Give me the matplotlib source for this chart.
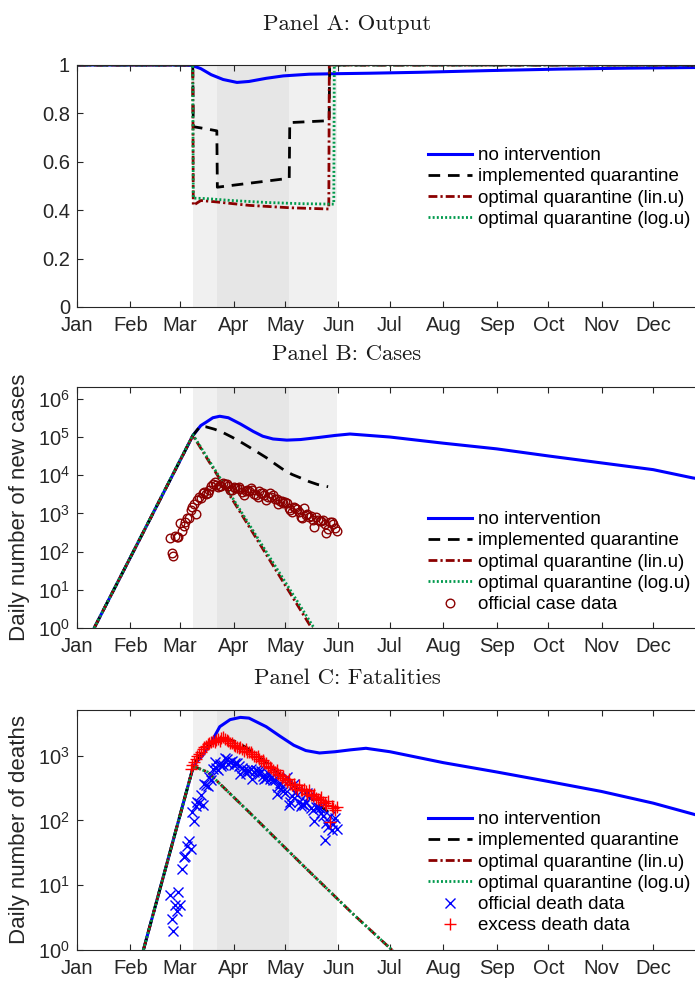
import numpy as np
import matplotlib
matplotlib.use("Agg")
import matplotlib.pyplot as plt

plt.rcParams['font.family'] = ['Liberation Sans', 'DejaVu Sans']
plt.rcParams['mathtext.default'] = 'regular'

# === DATA (day 0 = Jan 1, 2020) ===
month_days = [0, 31, 60, 91, 121, 152, 182, 213, 244, 274, 305, 335]
month_names = ['Jan', 'Feb', 'Mar', 'Apr', 'May', 'Jun',
               'Jul', 'Aug', 'Sep', 'Oct', 'Nov', 'Dec']

lockdown_outer = [67.5, 151]   # light grey band
lockdown_inner = [81.5, 123.5] # darker grey band

# Panel A: output
outA_none_days = [0, 60, 67, 72, 78, 85, 93, 100, 110, 120, 135, 150, 170, 200, 240, 280, 320, 366]
outA_none = [1, 1, 0.998, 0.985, 0.96, 0.94, 0.928, 0.932, 0.945, 0.955, 0.962, 0.964,
             0.966, 0.97, 0.977, 0.983, 0.987, 0.99]
outA_impl_days = [0, 67.3, 67.6, 72, 81.3, 81.6, 123.4, 123.7, 146.6, 146.9, 366]
outA_impl = [1, 1, 0.745, 0.74, 0.728, 0.495, 0.532, 0.762, 0.77, 1, 1]
outA_lin_days = [0, 67.3, 67.6, 72, 80, 100, 124, 146.4, 146.7, 366]
outA_lin = [1, 1, 0.42, 0.44, 0.435, 0.42, 0.41, 0.405, 1, 1]
outA_log_days = [0, 67.3, 67.6, 75, 90, 110, 130, 149.3, 149.6, 366]
outA_log = [1, 1, 0.45, 0.448, 0.44, 0.432, 0.427, 0.425, 1, 1]

# Panel B: daily new cases
casesB_none_days = [10, 67.4, 72, 75.4, 79, 83, 88, 95, 102.5, 108, 114, 122, 130, 141,
                    150, 158.7, 182, 213, 244, 274, 305, 335, 358, 366]
casesB_none = [1, 1.1e5, 2.0e5, 2.5e5, 3.2e5, 3.5e5, 3.2e5, 2.2e5, 1.4e5, 1.05e5, 8.9e4,
               8.3e4, 8.6e4, 9.8e4, 1.1e5, 1.2e5, 1.0e5, 6.9e4, 4.9e4, 3.2e4, 2.1e4,
               1.4e4, 8.5e3, 7.5e3]
casesB_impl_days = [10, 67.4, 71.5, 75, 80, 85, 90, 95, 100, 105, 110, 115, 120, 125,
                    130, 135, 140, 146]
casesB_impl = [1, 1.1e5, 1.9e5, 1.85e5, 1.6e5, 1.3e5, 1.0e5, 7.5e4, 5.5e4, 4.0e4, 2.9e4,
               2.0e4, 1.4e4, 1.05e4, 8.5e3, 6.8e3, 5.7e3, 5.0e3]
casesB_lin_days = [10, 67.4, 136.4, 145]
casesB_lin = [1, 1.1e5, 1, 0.23]
casesB_log_days = [10, 67.4, 137.8, 145]
casesB_log = [1, 1.15e5, 1, 0.3]

case_first_day = 54
case_data = [221, 93, 78, 250, 238, 240, 561, 347, 466, 587, 769, 778, 1247, 1492,
             1797, 977, 2313, 2651, 2547, 3497, 3590, 3233, 3526, 4207, 5322, 5986,
             6557, 5560, 4789, 5249, 5210, 6153, 5959, 5974, 5217, 4050, 4053, 4782,
             4668, 4585, 4805, 4316, 3599, 3039, 3836, 4204, 3951, 4694, 4092, 3153,
             2972, 2667, 3786, 3493, 3491, 3047, 2256, 2729, 3370, 2646, 3021, 2357,
             2324, 1739, 2091, 2086, 1872, 1965, 1900, 1389, 1221, 1075, 1444, 1401,
             1327, 1083, 802, 744, 1402, 888, 992, 789, 875, 675, 451, 813, 665, 642,
             652, 669, 531, 300, 397, 584, 593, 516, 416, 355]

# Panel C: daily deaths
deathsC_none_days = [38.6, 67.6, 70, 73, 78, 83, 89, 95, 100, 110, 118, 126, 133, 141,
                     150, 159, 168, 182, 213, 244, 274, 305, 335, 366]
deathsC_none = [1, 680, 830, 1000, 1600, 2800, 3600, 3900, 3800, 2800, 2000, 1450, 1200,
                1100, 1150, 1230, 1300, 1150, 780, 560, 400, 280, 185, 110]
deathsC_impl_days = [38.6, 67.6, 70, 73, 77, 82, 87, 92, 97, 102, 107, 112, 117, 122,
                     127, 132, 137, 142, 146]
deathsC_impl = [1, 680, 900, 1150, 1450, 1700, 1800, 1650, 1400, 1150, 900, 700, 540,
                420, 330, 265, 210, 165, 135]
deathsC_opt_days = [38.6, 67.6, 70, 73, 76, 100, 130, 160, 185]
deathsC_opt = [1, 680, 650, 600, 560, 135, 22, 3.7, 0.9]

death_first_day = 54
death_data = [7, 3, 2, 5, 4, 8, 5, 18, 27, 28, 41, 49, 36, 133, 97, 168, 196, 189, 250,
              175, 368, 349, 345, 475, 427, 627, 793, 651, 601, 743, 683, 712, 919, 889,
              756, 812, 837, 727, 760, 766, 681, 525, 636, 604, 542, 610, 570, 619, 431,
              566, 602, 578, 525, 575, 482, 433, 454, 534, 437, 464, 420, 415, 260, 333,
              382, 323, 285, 269, 474, 174, 195, 236, 369, 274, 243, 194, 165, 179, 172,
              195, 262, 242, 153, 145, 99, 162, 161, 156, 130, 119, 50, 92, 78, 117, 70,
              87, 111, 75]

excess_first_day = 66
excess_data = [620, 720, 800, 900, 1000, 1050, 1150, 1250, 1350, 1400, 1500, 1550, 1600,
               1700, 1650, 1750, 1800, 1700, 1850, 1950, 1800, 1750, 1700, 1550, 1550,
               1450, 1400, 1350, 1300, 1350, 1250, 1200, 1250, 1150, 1150, 1150, 1050,
               1000, 950, 1000, 880, 830, 850, 780, 760, 700, 660, 640, 600, 560, 600,
               530, 500, 450, 480, 420, 390, 430, 370, 350, 370, 330, 310, 350, 300, 290,
               310, 280, 260, 290, 250, 240, 260, 225, 215, 205, 230, 195, 185, 175, 200,
               95, 165, 155, 145, 160]

# === STYLE ===
c_none = '#0000FF'
c_impl = 'black'
c_lin = '#8B0000'
c_log = '#00994C'
ax_col = '#262626'
ls_impl = (0, (4.2, 2.8))
ls_lin = (0, (3.2, 1.1, 0.8, 1.1))
ls_log = (0, (0.7, 0.8))

W, H = 695, 981
fig = plt.figure(figsize=(W / 100, H / 100), dpi=100)

x0, x1 = 77, 706.5
def axes_at(top, bottom):
    return fig.add_axes([x0 / W, 1 - bottom / H, (x1 - x0) / W, (bottom - top) / H])

axA = axes_at(65, 307)
axB = axes_at(387, 628)
axC = axes_at(710, 950)


def style(ax):
    ax.axvspan(lockdown_outer[0], lockdown_outer[1], color='#F0F0F0', lw=0, zorder=0)
    ax.axvspan(lockdown_inner[0], lockdown_inner[1], color='#E6E6E6', lw=0, zorder=0)
    ax.set_xlim(0, 366)
    ax.set_xticks(month_days)
    ax.set_xticklabels(month_names)
    ax.tick_params(direction='in', length=4, width=0.8, color=ax_col, labelcolor=ax_col,
                   labelsize=14.5, top=True, right=True, pad=5)
    ax.tick_params(axis='x', pad=6.5)
    ax.minorticks_off()
    for s in ax.spines.values():
        s.set_color(ax_col)
        s.set_linewidth(0.8)


def lines(ax, none, impl, lin, log):
    ax.plot(*none, color=c_none, lw=2.2, label='no intervention')
    ax.plot(*impl, color=c_impl, lw=2.0, ls=ls_impl, label='implemented quarantine')
    ax.plot(*lin, color=c_lin, lw=2.0, ls=ls_lin, label='optimal quarantine (lin.u)')
    ax.plot(*log, color=c_log, lw=2.0, ls=ls_log, label='optimal quarantine (log.u)')


def legend(ax, top_px):
    ax.legend(loc='upper left', bbox_to_anchor=(428 / W, 1 - top_px / H),
              bbox_transform=fig.transFigure, frameon=False, fontsize=13.5,
              handlelength=2.35, handletextpad=0.32, labelspacing=0.22,
              borderpad=0, borderaxespad=0)


# Panel A
style(axA)
lines(axA, (outA_none_days, outA_none), (outA_impl_days, outA_impl),
      (outA_lin_days, outA_lin), (outA_log_days, outA_log))
axA.set_ylim(0, 1)
axA.set_yticks([0, 0.2, 0.4, 0.6, 0.8, 1])
axA.set_yticklabels(['0', '0.2', '0.4', '0.6', '0.8', '1'])
legend(axA, 147)

# Panel B
style(axB)
axB.set_yscale('log')
lines(axB, (casesB_none_days, casesB_none), (casesB_impl_days, casesB_impl),
      (casesB_lin_days, casesB_lin), (casesB_log_days, casesB_log))
case_days = np.arange(len(case_data)) + case_first_day
axB.plot(case_days, case_data, ls='none', marker='o', ms=6.2, mfc='none', mec=c_lin,
         mew=1.0, label='official case data')
axB.set_ylim(1, 10 ** 6.31)
axB.set_yticks([10 ** k for k in range(7)])
axB.set_yticklabels(['$10^{%d}$' % k for k in range(7)])
axB.minorticks_off()
axB.set_ylabel('Daily number of new cases', fontsize=16, color=ax_col)
axB.yaxis.set_label_coords(-0.075, 0.5)
legend(axB, 511)

# Panel C
style(axC)
axC.set_yscale('log')
lines(axC, (deathsC_none_days, deathsC_none), (deathsC_impl_days, deathsC_impl),
      (deathsC_opt_days, deathsC_opt), (deathsC_opt_days, deathsC_opt))
death_days = np.arange(len(death_data)) + death_first_day
excess_days = np.arange(len(excess_data)) + excess_first_day
axC.plot(death_days, death_data, ls='none', marker='x', ms=6.5, mec=c_none, mew=1.0,
         label='official death data')
axC.plot(excess_days, excess_data, ls='none', marker='+', ms=9, mec='#FF0000', mew=1.0,
         label='excess death data')
axC.set_ylim(1, 10 ** 3.705)
axC.set_yticks([10 ** k for k in range(4)])
axC.set_yticklabels(['$10^{%d}$' % k for k in range(4)])
axC.minorticks_off()
axC.set_ylabel('Daily number of deaths', fontsize=16, color=ax_col)
axC.yaxis.set_label_coords(-0.075, 0.5)
legend(axC, 811)

# Panel titles
for txt, base in (('Panel A: Output', 30), ('Panel B: Cases', 360),
                  ('Panel C: Fatalities', 684)):
    fig.text(347 / W, 1 - base / H, txt, family='cmr10', fontsize=16.4,
             ha='center', va='baseline', color='#1a1a1a')

fig.savefig('out.png', dpi=100)
